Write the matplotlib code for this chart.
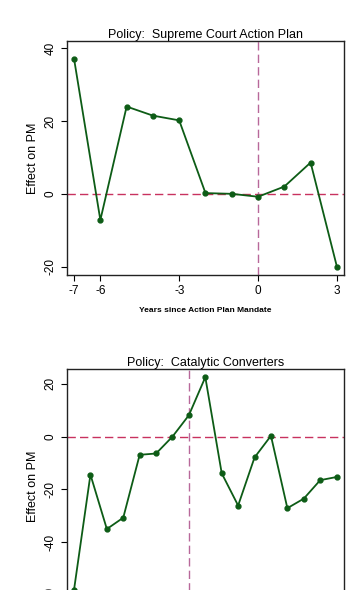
import matplotlib
matplotlib.use('Agg')
import matplotlib.pyplot as plt

plt.rcParams['font.family'] = ['Liberation Sans', 'DejaVu Sans']
plt.rcParams['axes.unicode_minus'] = False

# Panel 1: Supreme Court Action Plan
sc_years = [-7, -6, -5, -4, -3, -2, -1, 0, 1, 2, 3]
sc_effect = [37.1, -7.2, 24.0, 21.5, 20.2, 0.2, 0.0, -0.8, 2.0, 8.6, -20.0]
sc_xticks = [-7, -6, -3, 0, 3]
sc_yticks = [-20, 0, 20, 40]

# Panel 2: Catalytic Converters
cc_years = list(range(-7, 10))
cc_effect = [-58.0, -14.4, -35.0, -30.7, -6.9, -6.4, 0.0, 8.1, 22.5,
             -13.9, -26.1, -7.9, 0.3, -27.1, -23.5, -16.5, -15.3]
cc_yticks = [-60, -40, -20, 0, 20]

green = '#0d5c16'
hcol = '#c8325f'
vcol = '#b8689a'

fig = plt.figure(figsize=(3.64, 5.90), dpi=100)


def style(ax):
    for s in ax.spines.values():
        s.set_linewidth(1.0)
        s.set_color('#222222')
    ax.tick_params(direction='out', length=4, width=0.8, labelsize=8.5)
    for lab in ax.get_yticklabels():
        lab.set_rotation(90)
        lab.set_va('center')


# Top panel
ax1 = fig.add_axes([0.184, 0.534, 0.761, 0.397])
ax1.axhline(0, color=hcol, linestyle=(0, (6, 3)), linewidth=1.0, zorder=1)
ax1.axvline(0, color=vcol, linestyle=(0, (6, 3)), linewidth=1.0, zorder=1)
ax1.plot(sc_years, sc_effect, color=green, linewidth=1.3, marker='o', markersize=3.5, zorder=3)
ax1.set_xlim(-7.27, 3.27)
ax1.set_ylim(-22.3, 42.1)
ax1.set_xticks(sc_xticks)
ax1.set_yticks(sc_yticks)
ax1.set_title('Policy:  Supreme Court Action Plan', fontsize=9, pad=2)
ax1.set_ylabel('Effect on PM', fontsize=9, labelpad=4)
ax1.set_xlabel('Years since Action Plan Mandate', fontsize=6, fontweight='bold', labelpad=7)
style(ax1)

# Bottom panel (cut off at figure bottom)
ax2 = fig.add_axes([0.184, -0.022, 0.761, 0.3966])
ax2.axhline(0, color=hcol, linestyle=(0, (6, 3)), linewidth=1.0, zorder=1)
ax2.axvline(0, color=vcol, linestyle=(0, (6, 3)), linewidth=1.0, zorder=1)
ax2.plot(cc_years, cc_effect, color=green, linewidth=1.3, marker='o', markersize=3.5, zorder=3)
ax2.set_xlim(-7.43, 9.45)
ax2.set_ylim(-63, 25.6)
ax2.set_yticks(cc_yticks)
ax2.set_title('Policy:  Catalytic Converters', fontsize=9, pad=2)
ax2.set_ylabel('Effect on PM', fontsize=9, labelpad=4)
style(ax2)
ax2.tick_params(axis='x', labelbottom=False)

fig.savefig('out.png', dpi=100)
